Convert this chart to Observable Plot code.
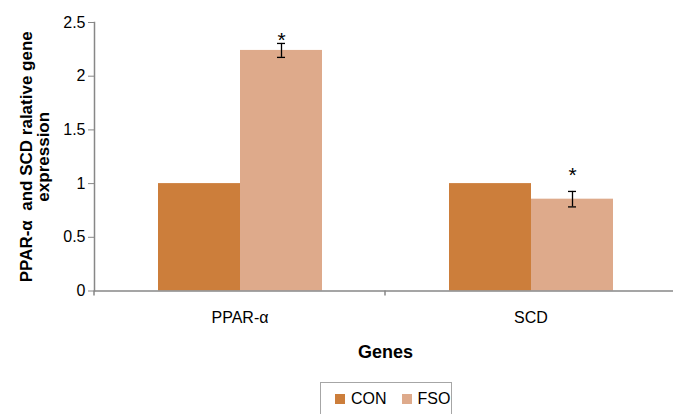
<!DOCTYPE html>
<html>
<head>
<meta charset="utf-8">
<script src="https://cdn.jsdelivr.net/npm/d3@7"></script>
<script src="https://cdn.jsdelivr.net/npm/@observablehq/plot@0.6"></script>
<style>
  html, body { margin: 0; padding: 0; background: #fff; overflow: hidden; }
  #chart svg { display: block; }
  g[aria-label="fx-axis label"] text { font-weight: bold !important; font-size: 18px !important; }
  g[aria-label="y-axis label"] text { font-weight: bold !important; font-size: 17px !important; white-space: pre; }
  #legend {
    margin-left: 320px; margin-top: 2px; width: 132px; height: 40px;
    border: 1px solid #a6a6a6; box-sizing: border-box;
    font-family: "Liberation Sans", Arial, sans-serif; font-size: 16px; color: #000;
    display: flex; align-items: center; padding: 0 0 6px 14px;
  }
  .sw { width: 10px; height: 10px; display: inline-block; margin-right: 6px; }
  .it { display: flex; align-items: center; margin-right: 15px; }
</style>
</head>
<body>
<div id="chart"></div>
<div id="legend"></div>
<script>
const genes = ["PPAR-α", "SCD"];
const groups = ["CON", "FSO"];
const conValues = [1, 1];
const fsoValues = [2.24, 0.855];
const fsoErrors = [0.065, 0.072];
const starLevels = [2.33, 1.08];
const yTicks = [0, 0.5, 1, 1.5, 2, 2.5];
const colors = ["#CC7E3B", "#DEAA8B"];
const yLabel = "PPAR-α  and SCD ralative gene\nexpression";
const xLabel = "Genes";

const rows = genes.flatMap((g, i) => [
  {gene: g, group: groups[0], value: conValues[i]},
  {gene: g, group: groups[1], value: fsoValues[i]}
]);
const errRows = genes.map((g, i) => ({
  gene: g, group: groups[1],
  lo: fsoValues[i] - fsoErrors[i], hi: fsoValues[i] + fsoErrors[i],
  star: starLevels[i]
}));

const axisGrey = "#878787";
const plot = Plot.plot({
  width: 673, height: 380,
  marginLeft: 94, marginRight: -3, marginTop: 22, marginBottom: 89.5,
  style: {fontFamily: "'Liberation Sans', Arial, sans-serif", fontSize: "16px", color: "#000", background: "#fff"},
  fx: {domain: genes, padding: 0},
  x: {domain: groups, paddingInner: 0, paddingOuter: 0.764, axis: null},
  y: {domain: [0, 2.5]},
  color: {domain: groups, range: colors},
  marks: [
    Plot.barY(rows, {fx: "gene", x: "group", y: "value", fill: "group"}),
    Plot.ruleY([0], {stroke: axisGrey, strokeWidth: 1.5}),
    Plot.frame({anchor: "left", facetAnchor: "left", stroke: axisGrey, strokeWidth: 1.5}),
    Plot.ruleX(errRows, {fx: "gene", x: "group", y1: "lo", y2: "hi", stroke: "#000", strokeWidth: 1.3}),
    Plot.tickY(errRows, {fx: "gene", x: "group", y: "lo", stroke: "#000", strokeWidth: 1.3, insetLeft: 37, insetRight: 37}),
    Plot.tickY(errRows, {fx: "gene", x: "group", y: "hi", stroke: "#000", strokeWidth: 1.3, insetLeft: 37, insetRight: 37}),
    Plot.text(errRows, {fx: "gene", x: "group", y: "star", text: () => "*", fontSize: 21, fill: "#000"}),
    Plot.axisY({ticks: yTicks, tickFormat: d => String(d), tickSize: 6, tickPadding: 3, stroke: axisGrey,
      label: yLabel, labelArrow: "none", labelAnchor: "center", labelOffset: 75}),
    Plot.axisFx({anchor: "bottom", tickSize: 0, tickPadding: 20.5, label: xLabel, labelArrow: "none", labelAnchor: "center", labelOffset: 66.5})
  ]
});
document.getElementById("chart").appendChild(plot);

// category boundary ticks on the x axis (Excel style), from the fx scale
const fx = plot.scale("fx");
const y = plot.scale("y");
const y0 = y.apply(0);
const bounds = genes.map(g => fx.apply(g)).concat([fx.apply(genes[genes.length - 1]) + fx.bandwidth]);
const svg = d3.select(plot);
svg.append("g").attr("stroke", axisGrey).attr("stroke-width", 1.5)
  .selectAll("line").data(bounds).join("line")
  .attr("x1", d => d).attr("x2", d => d).attr("y1", y0).attr("y2", y0 + 5);

// legend
const legend = d3.select("#legend");
groups.forEach((g, i) => {
  const it = legend.append("span").attr("class", "it");
  it.append("span").attr("class", "sw").style("background", colors[i]);
  it.append("span").text(g);
});
</script>
</body>
</html>
